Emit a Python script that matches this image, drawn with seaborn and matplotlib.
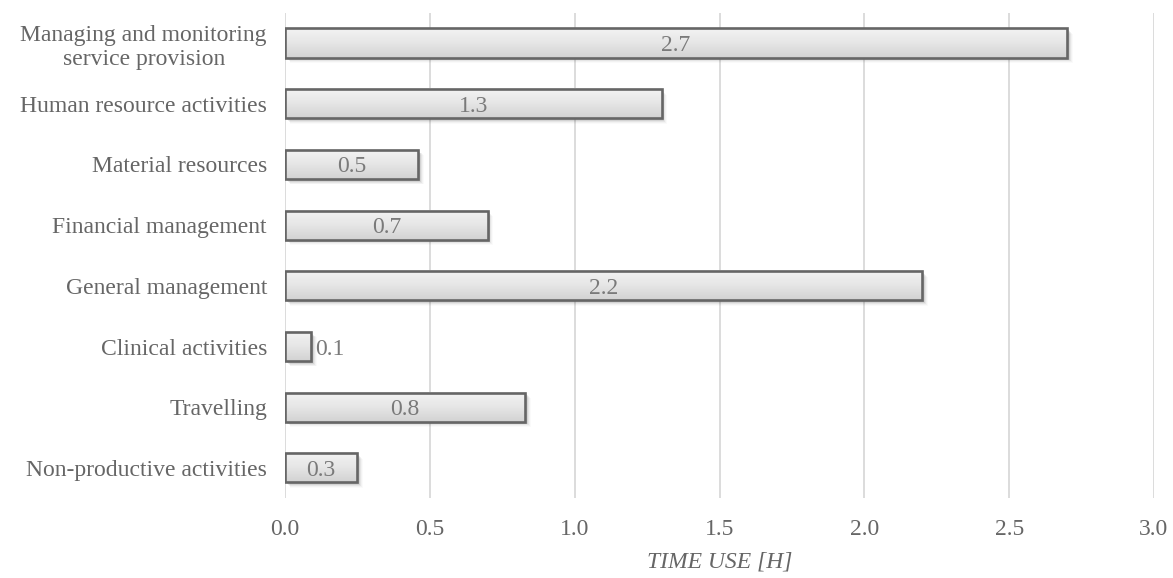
import numpy as np
import matplotlib
matplotlib.use("Agg")
import matplotlib.pyplot as plt
import matplotlib.transforms as mtransforms
from matplotlib.patches import Rectangle
from matplotlib.colors import LinearSegmentedColormap
import seaborn as sns

categories = [
    "Managing and monitoring\nservice provision",
    "Human resource activities",
    "Material resources",
    "Financial management",
    "General management",
    "Clinical activities",
    "Travelling",
    "Non-productive activities",
]
values = [2.70, 1.30, 0.46, 0.70, 2.20, 0.09, 0.83, 0.25]
value_labels = ["2.7", "1.3", "0.5", "0.7", "2.2", "0.1", "0.8", "0.3"]
xticks = [0.0, 0.5, 1.0, 1.5, 2.0, 2.5, 3.0]

sns.set_theme(style="white")
plt.rcParams["font.family"] = ["Liberation Serif", "DejaVu Serif"]

TXT = "#666666"
FS = 17
fig = plt.figure(figsize=(11.73, 5.78), dpi=100)
ax = fig.add_axes([0.2430, 0.138, 0.7408, 0.840])

sns.barplot(x=values, y=categories, orient="h", width=0.48, color="#e6e6e6",
            edgecolor="#666666", linewidth=1.9, ax=ax, zorder=3)

cmap = LinearSegmentedColormap.from_list("g", ["#f3f3f3", "#e6e6e6", "#d2d2d2"])
grad = np.linspace(0, 1, 100).reshape(-1, 1)
for p, lab in zip(ax.patches, value_labels):
    x0, y0 = p.get_x(), p.get_y()
    w, h = p.get_width(), p.get_height()
    # soft shadow
    for k, a in zip([1, 2, 3, 4, 5, 6], [0.12, 0.09, 0.07, 0.05, 0.03, 0.02]):
        tr = mtransforms.offset_copy(ax.transData, fig=fig, x=k * 0.9, y=-k * 0.9, units="dots")
        ax.add_patch(Rectangle((x0, y0), w, h, facecolor="black", edgecolor="none",
                               alpha=a, transform=tr, zorder=1))
    ax.imshow(grad, extent=[x0, x0 + w, y0, y0 + h], origin="lower", cmap=cmap,
              aspect="auto", zorder=2, interpolation="bicubic")
    p.set_facecolor("none")
    yc = y0 + h / 2
    if w > 0.2:
        ax.text(x0 + w / 2, yc, lab, ha="center", va="center_baseline", color="#7a7a7a",
                fontsize=FS, zorder=4)
    else:
        tr = mtransforms.offset_copy(ax.transData, fig=fig, x=4, y=0, units="dots")
        ax.text(x0 + w, yc, lab, ha="left", va="center_baseline", color="#7a7a7a",
                fontsize=FS, zorder=4, transform=tr)

ax.set_xlim(0, 3.0)
ax.set_ylim(len(categories) - 0.5, -0.5)
ax.set_xticks(xticks)
ax.set_xticklabels([f"{t:.1f}" for t in xticks])
ax.xaxis.grid(True, color="#d9d9d9", linewidth=1.3, zorder=0)
ax.yaxis.grid(False)
ax.set_axisbelow(True)
for s in ax.spines.values():
    s.set_visible(False)
ax.tick_params(axis="both", length=0, labelsize=FS, colors=TXT)
ax.tick_params(axis="x", pad=15)
ax.tick_params(axis="y", pad=13)
for t in ax.get_yticklabels():
    t.set_multialignment("center")
ax.set_ylabel("")
ax.set_xlabel("TIME USE [H]", fontsize=FS, fontstyle="italic", color=TXT, labelpad=8)

fig.savefig("out.png", dpi=100)
